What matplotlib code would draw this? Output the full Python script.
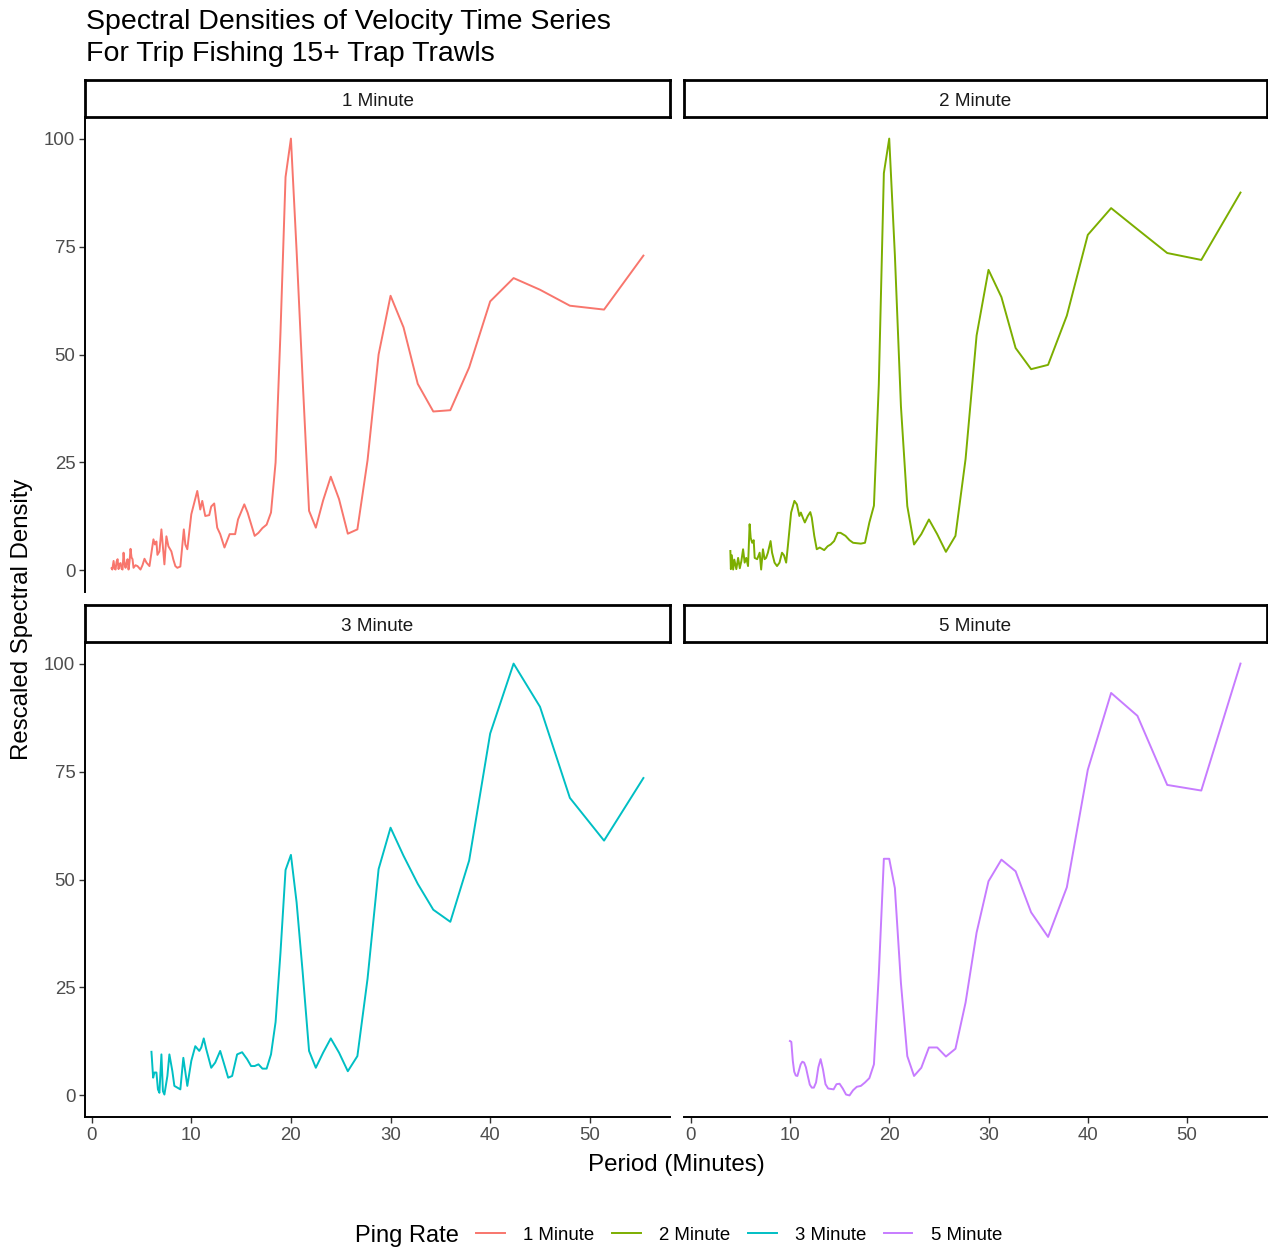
import matplotlib
matplotlib.use("Agg")
import matplotlib.pyplot as plt
from matplotlib.lines import Line2D

plt.rcParams['font.family'] = ['Liberation Sans', 'DejaVu Sans']

# periods (minutes) and rescaled spectral density
period_1min = [2.0, 2.07, 2.2, 2.3, 2.4, 2.5, 2.6, 2.7, 2.8, 2.9, 3.0, 3.1, 3.2, 3.3, 3.4,
               3.5, 3.6, 3.7, 3.8, 3.9, 4.0, 4.1, 4.2, 4.4, 4.6, 4.9, 5.1, 5.3, 5.5, 5.8,
               6.0, 6.2, 6.35, 6.5, 6.6, 6.8, 7.0, 7.3, 7.5, 7.7, 8.0, 8.2, 8.4, 8.6, 8.9,
               9.25, 9.4, 9.6, 10.0, 10.3, 10.6, 10.9, 11.1, 11.4, 11.8, 12.0, 12.3, 12.6,
               12.9, 13.33, 13.85, 14.4, 14.69, 15.32, 15.65, 16.36, 16.74, 17.14, 17.56,
               18.0, 18.46, 18.95, 19.46, 20.0, 20.57, 21.18, 21.82, 22.5, 23.23, 24.0,
               24.83, 25.71, 26.67, 27.69, 28.8, 30.0, 31.3, 32.73, 34.29, 36.0, 37.89,
               40.0, 42.35, 45.0, 48.0, 51.43, 55.38]
density_1min = [0.5, 0.2, 2.2, 0.4, 0.2, 2.0, 2.6, 0.3, 1.5, 1.7, 0.4, 0.2, 4.1, 1.5, 0.6,
                1.8, 2.6, 0.2, 2.0, 5.0, 3.0, 2.6, 0.6, 1.2, 1.0, 0.2, 1.2, 2.7, 1.8, 1.0,
                4.1, 7.2, 6.0, 6.7, 3.6, 4.4, 9.5, 1.4, 7.9, 5.6, 4.4, 2.5, 1.0, 0.6, 0.9,
                9.5, 6.0, 4.9, 13.0, 15.7, 18.4, 14.1, 16.1, 12.6, 12.8, 14.8, 15.5, 9.9,
                8.4, 5.3, 8.4, 8.4, 11.8, 15.3, 13.4, 8.0, 8.7, 9.8, 10.6,
                13.4, 25.0, 55.0, 91.1, 100.0, 74.0, 44.0, 13.8, 9.9, 16.2, 21.7,
                16.5, 8.5, 9.5, 25.5, 50.0, 63.6, 56.3, 43.2, 36.8, 37.1, 47.0,
                62.3, 67.7, 65.0, 61.3, 60.4, 72.9]

period_2min = [4.0, 4.05, 4.15, 4.28, 4.4, 4.6, 4.78, 4.95, 5.11, 5.28, 5.44, 5.6, 5.78,
               5.94, 6.05, 6.2, 6.35, 6.45, 6.7, 6.95, 7.1, 7.28, 7.45, 7.6, 7.78, 8.05,
               8.2, 8.45, 8.7, 8.95, 9.2, 9.4, 9.62, 9.79, 10.12, 10.45, 10.7, 10.95, 11.1,
               11.3, 11.5, 11.8, 12.05, 12.2, 12.45, 12.7, 13.0, 13.45, 13.8, 14.1, 14.45,
               14.8, 15.1, 15.6, 16.0, 16.36, 16.74, 17.14, 17.56, 18.0, 18.46, 18.95,
               19.46, 20.0, 20.57, 21.18, 21.82, 22.5, 23.23, 24.0, 24.83, 25.71, 26.67,
               27.69, 28.8, 30.0, 31.3, 32.73, 34.29, 36.0, 37.89, 40.0, 42.35, 45.0,
               48.0, 51.43, 55.38]
density_2min = [4.5, 0.3, 3.5, 0.2, 2.5, 0.3, 2.9, 0.5, 2.2, 4.9, 1.8, 2.9, 1.0,
                10.7, 7.5, 6.4, 7.0, 2.9, 2.6, 4.1, 0.2, 4.9, 2.6, 2.9, 4.1, 6.8,
                4.1, 1.8, 1.0, 1.8, 4.1, 3.5, 1.8, 5.6, 13.4, 16.1, 15.3, 12.6, 13.4,
                12.2, 11.1, 12.6, 13.5, 12.2, 8.0, 4.9, 5.3, 4.7, 5.6, 6.0, 6.8,
                8.7, 8.7, 8.0, 7.0, 6.4, 6.3, 6.2, 6.4, 11.1, 15.0, 43.0,
                92.0, 100.0, 73.0, 38.0, 14.9, 6.0, 8.4, 11.8, 8.4, 4.3, 8.0,
                25.8, 54.4, 69.6, 63.3, 51.5, 46.6, 47.6, 59.0, 77.7, 83.9, 79.0,
                73.5, 71.9, 87.5]

period_3min = [6.0, 6.17, 6.3, 6.5, 6.65, 6.8, 7.0, 7.15, 7.3, 7.6, 7.8, 8.1, 8.3, 8.6,
               8.9, 9.2, 9.6, 10.0, 10.4, 10.8, 11.0, 11.25, 11.5, 12.0, 12.4, 12.9, 13.2,
               13.7, 14.1, 14.6, 15.1, 15.6, 16.0, 16.36, 16.74, 17.14, 17.56, 18.0,
               18.46, 18.95, 19.46, 20.0, 20.57, 21.18, 21.82, 22.5, 23.23, 24.0, 24.83,
               25.71, 26.67, 27.69, 28.8, 30.0, 31.3, 32.73, 34.29, 36.0, 37.89, 40.0,
               42.35, 45.0, 48.0, 51.43, 55.38]
density_3min = [10.1, 4.1, 5.3, 5.3, 1.4, 0.6, 9.5, 1.0, 0.2, 4.5, 9.5, 5.6, 2.2, 1.8,
                1.4, 8.7, 2.2, 8.0, 11.4, 10.3, 11.1, 13.2, 10.7, 6.4, 7.6, 10.3, 8.0,
                4.1, 4.5, 9.5, 10.0, 8.4, 6.8, 6.8, 7.2, 6.2, 6.2, 9.5,
                17.0, 33.0, 52.2, 55.7, 44.7, 28.5, 10.3, 6.4, 9.9, 13.2, 9.9,
                5.6, 9.1, 27.0, 52.4, 62.0, 55.5, 49.0, 43.0, 40.2, 54.4, 83.8,
                100.0, 90.0, 68.9, 59.0, 73.5]

period_5min = [10.0, 10.14, 10.29, 10.43, 10.59, 10.75, 10.91, 11.08, 11.25, 11.43, 11.61,
               11.8, 12.0, 12.2, 12.41, 12.63, 12.86, 13.09, 13.33, 13.58, 13.85, 14.12,
               14.4, 14.69, 15.0, 15.32, 15.65, 16.0, 16.36, 16.74, 17.14, 17.56, 18.0,
               18.46, 18.95, 19.46, 20.0, 20.57, 21.18, 21.82, 22.5, 23.23, 24.0, 24.83,
               25.71, 26.67, 27.69, 28.8, 30.0, 31.3, 32.73, 34.29, 36.0, 37.89, 40.0,
               42.35, 45.0, 48.0, 51.43, 55.38]
density_5min = [12.6, 12.4, 8.0, 5.5, 4.6, 4.5, 5.8, 7.2, 7.8, 7.6, 6.5,
                4.5, 2.5, 1.8, 1.8, 3.0, 6.5, 8.4, 6.0, 2.6, 1.6, 1.5,
                1.4, 2.6, 2.7, 1.6, 0.2, 0.0, 1.2, 2.0, 2.2, 3.0, 4.0,
                7.2, 28.0, 54.8, 54.8, 48.0, 26.0, 9.1, 4.5, 6.4, 11.1, 11.1,
                9.0, 10.8, 21.5, 37.7, 49.6, 54.6, 51.9, 42.4, 36.7, 48.2, 75.4,
                93.2, 87.9, 71.9, 70.6, 100.0]

labels = ['1 Minute', '2 Minute', '3 Minute', '5 Minute']
colors = ['#F8766D', '#7CAE00', '#00BFC4', '#C77CFF']
periods = [period_1min, period_2min, period_3min, period_5min]
densities = [density_1min, density_2min, density_3min, density_5min]

W, H = 1268, 1247
fig = plt.figure(figsize=(W / 100, H / 100), dpi=100)


def rect(x0, y0, x1, y1):
    return [x0 / W, 1 - y1 / H, (x1 - x0) / W, (y1 - y0) / H]


# pixel boxes of the four facets: (x0, x1, y0, y1)
panel_boxes = [(85, 670, 117, 592), (684, 1267, 117, 592),
               (85, 670, 642, 1117), (684, 1267, 642, 1117)]
strip_boxes = [(80, 117), (80, 117), (605, 642), (605, 642)]

for i, (x0, x1, y0, y1) in enumerate(panel_boxes):
    ax = fig.add_axes(rect(x0, y0, x1, y1))
    ax.plot(periods[i], densities[i], color=colors[i], lw=1.4)
    ax.set_xlim(-0.67, 58.05)
    ax.set_ylim(-5, 105)
    ax.set_xticks([0, 10, 20, 30, 40, 50])
    ax.set_yticks([0, 25, 50, 75, 100])
    for s in ['top', 'right']:
        ax.spines[s].set_visible(False)
    left_col = i in (0, 2)
    bottom_row = i in (2, 3)
    ax.spines['left'].set_visible(left_col)
    ax.spines['bottom'].set_visible(bottom_row)
    ax.spines['left'].set_linewidth(1.4)
    ax.spines['bottom'].set_linewidth(1.4)
    ax.tick_params(axis='both', direction='out', length=4, width=1.0,
                   color='#333333', labelcolor='#4D4D4D', labelsize=13.4, pad=3)
    ax.tick_params(axis='y', left=left_col, labelleft=left_col)
    ax.tick_params(axis='x', bottom=bottom_row, labelbottom=bottom_row)

    sy0, sy1 = strip_boxes[i]
    sax = fig.add_axes(rect(x0, sy0, x1, sy1))
    sax.set_xticks([])
    sax.set_yticks([])
    for s in sax.spines.values():
        s.set_linewidth(2.0)
        s.set_color('black')
    sax.text(0.5, 0.42, labels[i], ha='center', va='center', fontsize=13.6,
             color='#1A1A1A', transform=sax.transAxes)

fig.text(86 / W, 1 - 9 / H, 'Spectral Densities of Velocity Time Series\nFor Trip Fishing 15+ Trap Trawls',
         ha='left', va='top', fontsize=20.5, linespacing=1.3)
fig.text(22 / W, 1 - 619 / H, 'Rescaled Spectral Density', rotation=90,
         ha='center', va='center', fontsize=17.3)
fig.text(676 / W, 1 - 1165 / H, 'Period (Minutes)', ha='center', va='center', fontsize=17.4)

fig.text(355 / W, 1 - 1236 / H, 'Ping Rate', ha='left', va='center', fontsize=17)
leg_handles = [Line2D([], [], color=c, lw=1.4) for c in colors]
fig.legend(leg_handles, labels, loc='center left', bbox_to_anchor=(476 / W, 1 - 1235 / H),
           ncol=4, frameon=False, fontsize=13.4, handlelength=1.55, handletextpad=1.0,
           columnspacing=0.92, borderpad=0, borderaxespad=0)

fig.savefig('out.png', dpi=100)
